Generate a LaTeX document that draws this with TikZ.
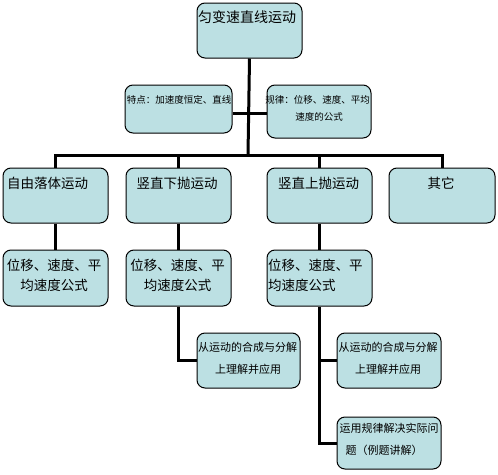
\documentclass[tikz,border=0pt]{standalone}
\usepackage{fontspec}
\setmainfont{Noto Sans CJK SC}
\usetikzlibrary{fit,backgrounds}
\definecolor{boxfill}{HTML}{BCE0E3}
\tikzset{
  x=1pt, y=-1pt,
  box/.style={draw=black, line width=1pt, fill=boxfill, rounded corners=8pt, inner sep=0pt},
  conn/.style={draw=black, line width=3pt},
  big/.style={font=\fontsize{14}{16}\selectfont, inner sep=0pt},
  mid/.style={font=\fontsize{13.5}{16}\selectfont, inner sep=0pt},
  small/.style={font=\fontsize{9.5}{11}\selectfont, inner sep=0pt},
  bsmall/.style={font=\fontsize{11}{13}\selectfont, inner sep=0pt},
}
\begin{document}
\begin{tikzpicture}
\useasboundingbox (0,0) rectangle (498,474);
% boxes
\node[box, fit={(197,3) (302,58)}] (top) {};
\node[box, fit={(125,85) (232,133)}] (tedian) {};
\node[box, fit={(267,85) (371,138)}] (guilv) {};
\node[box, fit={(3,168) (108,223)}] (l2a) {};
\node[box, fit={(126,168) (231,223)}] (l2b) {};
\node[box, fit={(267,168) (372,223)}] (l2c) {};
\node[box, fit={(389,168) (495,223)}] (l2d) {};
\node[box, fit={(3,250) (108,306)}] (l3a) {};
\node[box, fit={(126,250) (231,306)}] (l3b) {};
\node[box, fit={(267,250) (372,306)}] (l3c) {};
\node[box, fit={(197,333) (300,388)}] (b1) {};
\node[box, fit={(337,333) (441,388)}] (b2) {};
\node[box, fit={(337,417) (441,469)}] (b3) {};
% texts
\node[big] (ttop) at (247,17.5) {匀变速直线运动};
\node[small] (tted) at (179,100) {特点：加速度恒定、直线};
\node[small] (tgl1) at (317.5,100) {规律：位移、速度、平均};
\node[small] (tgl2) at (319,117) {速度的公式};
\node[mid] (t2a) at (47.5,183) {自由落体运动};
\node[mid] (t2b) at (177,183) {竖直下抛运动};
\node[mid] (t2c) at (318.5,183) {竖直上抛运动};
\node[mid] (t2d) at (441,183) {其它};
\node[mid] (t3a1) at (54,265) {位移、速度、平};
\node[mid] (t3a2) at (54,285) {均速度公式};
\node[mid] (t3b1) at (177.5,265) {位移、速度、平};
\node[mid] (t3b2) at (177.5,285) {均速度公式};
\node[mid, anchor=west] (t3c1) at (268,265) {位移、速度、平};
\node[mid, anchor=west] (t3c2) at (268,285) {均速度公式};
\node[bsmall] (tb11) at (247.5,347) {从运动的合成与分解};
\node[bsmall] (tb12) at (248,369) {上理解并应用};
\node[bsmall] (tb21) at (388,347) {从运动的合成与分解};
\node[bsmall] (tb22) at (388,369) {上理解并应用};
\node[bsmall] (tb31) at (389,428) {运用规律解决实际问};
\node[bsmall] (tb32) at (384,450) {题（例题讲解）};
% connectors
\coordinate (bar) at (248,155);
\coordinate (midl) at (248,113);
\begin{scope}[on background layer]
\draw[conn] (top.south) -- (bar);
\draw[conn] (tedian.east|-midl) -- (guilv.west|-midl);
\draw[conn] (l2a.north) -- (l2a.north|-bar) -- (l2d.north|-bar) -- (l2d.north);
\draw[conn] (l2b.north) -- (l2b.north|-bar);
\draw[conn] (l2c.north) -- (l2c.north|-bar);
\draw[conn] (l2a.south) -- (l3a.north);
\draw[conn] (l2b.south) -- (l3b.north);
\draw[conn] (l2c.south) -- (l3c.north);
\draw[conn] (l3b.south) -- (l3b.south|-b1.west) -- (b1.west);
\draw[conn] (l3c.south) -- (l3c.south|-b3.west) -- (b3.west);
\draw[conn] (l3c.south|-b2.west) -- (b2.west);
\end{scope}
\end{tikzpicture}
\end{document}
